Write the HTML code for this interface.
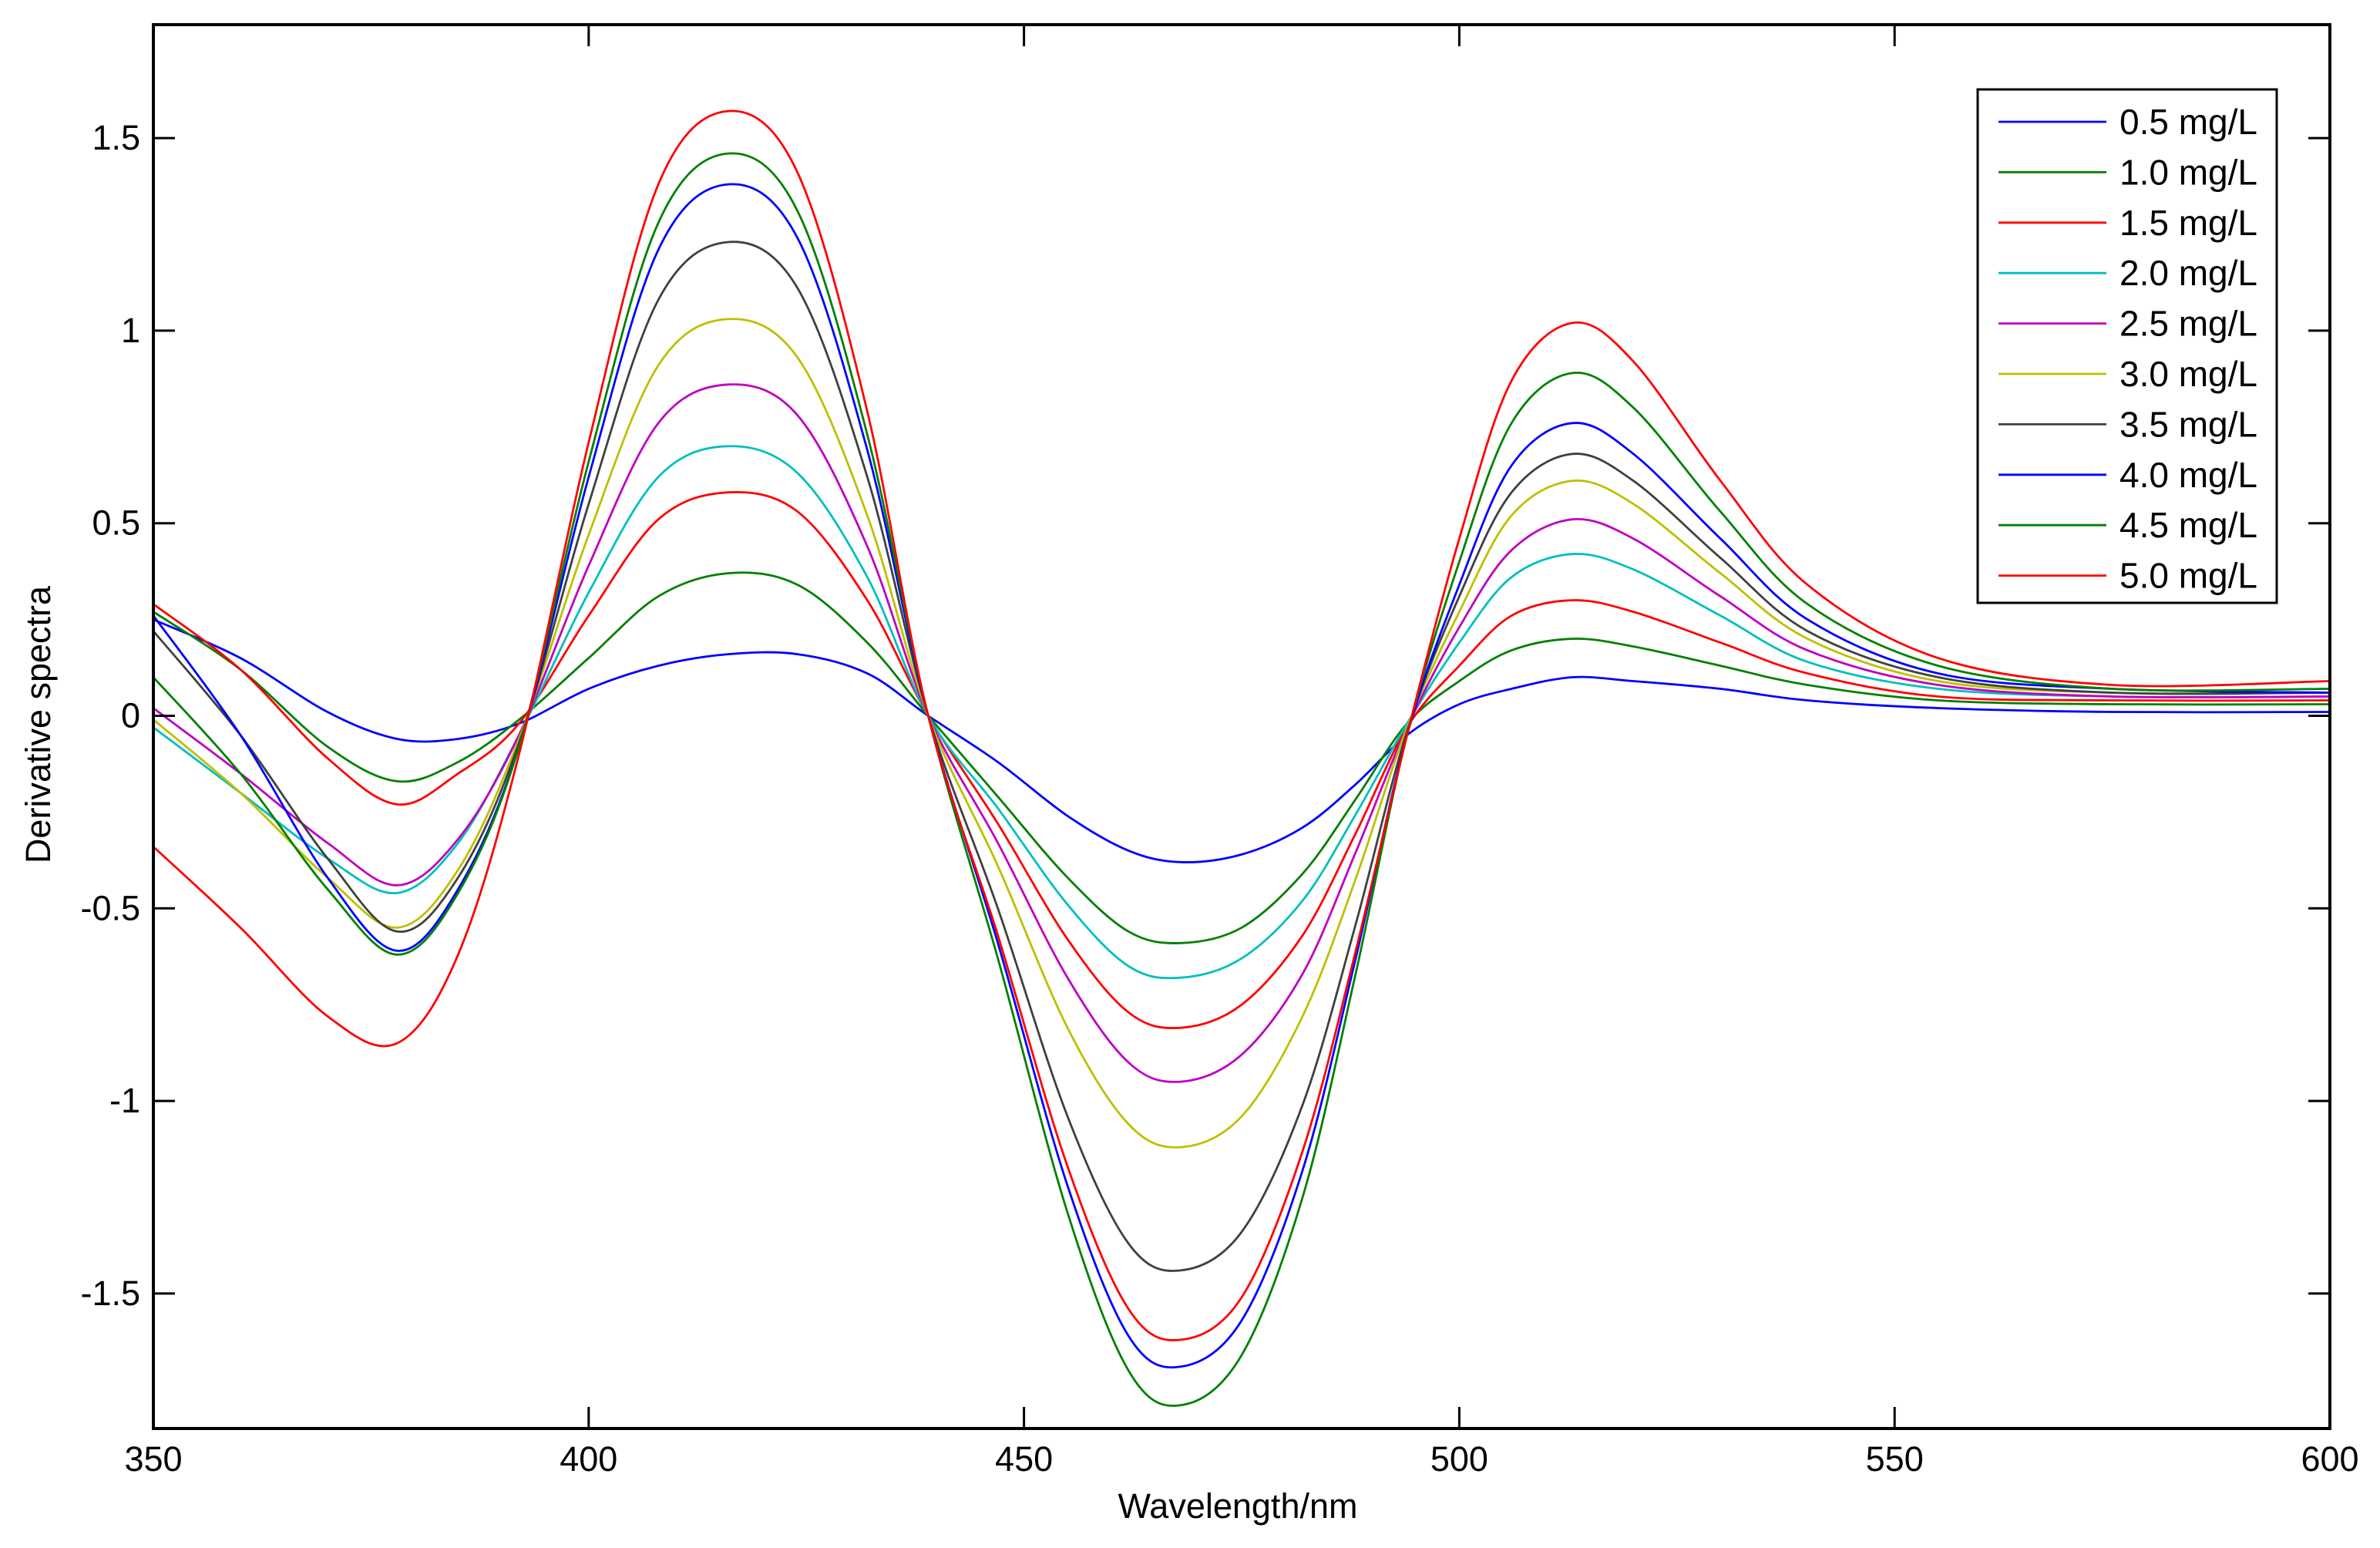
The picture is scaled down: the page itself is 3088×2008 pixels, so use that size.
<!DOCTYPE html>
<html><head><meta charset="utf-8"><style>
html,body{margin:0;padding:0;background:#fff;}
svg{display:block;font-family:"Liberation Sans",Arial,sans-serif;}
</style></head><body>
<svg id="chart" width="3088" height="2008" viewBox="0 0 3088 2008" xmlns="http://www.w3.org/2000/svg">
<rect width="3088" height="2008" fill="#fff"/>
<g id="curves"></g>
<g id="axes"></g>
<g id="legend"></g>
<text x="1606" y="1969" font-size="45" text-anchor="middle">Wavelength/nm</text>
<text x="0" y="0" font-size="45" text-anchor="middle" transform="translate(65,940) rotate(-90)">Derivative spectra</text>
</svg>
<script>
const wavelengths=[350,360,370,378,385,392,400,408,416,424,432,439,447,455,462,468,475,482,488,494,500,506,513,520,530,540,555,575,600];
const seriesNames=["0.5 mg/L","1.0 mg/L","1.5 mg/L","2.0 mg/L","2.5 mg/L","3.0 mg/L","3.5 mg/L","4.0 mg/L","4.5 mg/L","5.0 mg/L"];
const seriesColors=["#0000ff","#008000","#ff0000","#00bfbf","#bf00bf","#bfbf00","#404040","#0000ff","#008000","#ff0000"];
const s05=[.25,.15,.01,-.06,-.06,-.02,.07,.13,.16,.16,.11,0,-.12,-.26,-.35,-.38,-.36,-.29,-.18,-.05,.03,.07,.10,.09,.07,.04,.02,.01,.01];
const s10=[.27,.12,-.08,-.17,-.12,-.01,.15,.31,.37,.34,.19,0,-.21,-.42,-.56,-.59,-.55,-.41,-.22,-.02,.09,.17,.20,.18,.13,.08,.04,.03,.03];
const s15=[.29,.12,-.11,-.23,-.15,-.02,.26,.51,.58,.53,.30,0,-.28,-.58,-.77,-.81,-.75,-.57,-.31,-.03,.13,.26,.30,.27,.19,.11,.05,.04,.04];
const s20=[-.03,-.20,-.37,-.46,-.33,-.05,.32,.62,.70,.63,.36,0,-.24,-.49,-.65,-.68,-.63,-.48,-.26,-.02,.19,.36,.42,.38,.26,.14,.07,.05,.05];
const s25=[.02,-.15,-.33,-.44,-.32,-.05,.39,.76,.86,.78,.44,0,-.33,-.68,-.90,-.95,-.88,-.67,-.36,-.03,.23,.43,.51,.46,.31,.17,.08,.05,.05];
const s30=[-.01,-.20,-.42,-.55,-.40,-.06,.47,.91,1.03,.93,.52,0,-.39,-.81,-1.06,-1.12,-1.04,-.78,-.43,-.03,.27,.52,.61,.55,.37,.20,.09,.06,.06];
const s35=[.22,-.05,-.37,-.56,-.42,-.07,.55,1.08,1.23,1.11,.62,0,-.50,-1.04,-1.37,-1.44,-1.34,-1.01,-.55,-.04,.31,.58,.68,.61,.41,.22,.10,.06,.06];
const s40=[.26,-.05,-.42,-.61,-.45,-.08,.62,1.21,1.38,1.24,.69,0,-.59,-1.22,-1.61,-1.69,-1.57,-1.18,-.64,-.05,.34,.65,.76,.68,.46,.25,.11,.07,.06];
const s45=[.10,-.15,-.45,-.62,-.46,-.08,.66,1.28,1.46,1.31,.73,0,-.63,-1.29,-1.70,-1.79,-1.66,-1.25,-.68,-.05,.40,.76,.89,.80,.53,.29,.13,.07,.07];
const s50=[-.34,-.55,-.78,-.85,-.62,-.10,.71,1.38,1.57,1.41,.79,0,-.57,-1.17,-1.54,-1.62,-1.51,-1.13,-.62,-.05,.46,.87,1.02,.92,.61,.34,.15,.08,.09];
const seriesValues=[s05,s10,s15,s20,s25,s30,s35,s40,s45,s50];
const xTicks=[350,400,450,500,550,600];
const yTicks=[-1.5,-1,-0.5,0,0.5,1,1.5];
const yTickLabels=["-1.5","-1","-0.5","0","0.5","1","1.5"];

const NS="http://www.w3.org/2000/svg";
const L=199,R=3023,T=32,B=1853;
const xScale=v=>L+(v-350)/250*(R-L);
const yScale=v=>928.5-v*499.6;
function mk(tag,attrs,parent){const e=document.createElementNS(NS,tag);for(const k in attrs)e.setAttribute(k,attrs[k]);parent.appendChild(e);return e;}
function smooth(pts){let d="M"+pts[0][0].toFixed(1)+","+pts[0][1].toFixed(1);
 for(let i=0;i<pts.length-1;i++){const p0=pts[i-1]||pts[i],p1=pts[i],p2=pts[i+1],p3=pts[i+2]||p2;
  const c1=[p1[0]+(p2[0]-p0[0])/6,p1[1]+(p2[1]-p0[1])/6],c2=[p2[0]-(p3[0]-p1[0])/6,p2[1]-(p3[1]-p1[1])/6];
  d+="C"+c1[0].toFixed(1)+","+c1[1].toFixed(1)+" "+c2[0].toFixed(1)+","+c2[1].toFixed(1)+" "+p2[0].toFixed(1)+","+p2[1].toFixed(1);}
 return d;}
const cg=document.getElementById("curves");
seriesValues.forEach((vals,i)=>{
 const pts=vals.map((v,j)=>[xScale(wavelengths[j]),yScale(v)]);
 const p=mk("path",{d:smooth(pts),fill:"none",stroke:seriesColors[i],"stroke-width":"2.8"},cg);
 
 
});
const ag=document.getElementById("axes");
const box=mk("rect",{x:L,y:T,width:R-L,height:B-T,fill:"none",stroke:"#000","stroke-width":"4"},ag);


xTicks.forEach(t=>{const x=xScale(t);
 mk("line",{x1:x,y1:B,x2:x,y2:B-28,stroke:"#000","stroke-width":"3"},ag);
 mk("line",{x1:x,y1:T,x2:x,y2:T+28,stroke:"#000","stroke-width":"3"},ag);
 const tx=mk("text",{x:x,y:1908,"font-size":"45","text-anchor":"middle"},ag);tx.textContent=t;
 
 
});
yTicks.forEach((t,i)=>{const y=yScale(t);
 mk("line",{x1:L,y1:y,x2:L+28,y2:y,stroke:"#000","stroke-width":"3"},ag);
 mk("line",{x1:R,y1:y,x2:R-28,y2:y,stroke:"#000","stroke-width":"3"},ag);
 const tx=mk("text",{x:182,y:y+15,"font-size":"45","text-anchor":"end"},ag);tx.textContent=yTickLabels[i];
 
 
});
const lg=document.getElementById("legend");
const lb=mk("rect",{x:2566,y:116,width:388,height:666,fill:"#fff",stroke:"#000","stroke-width":"3"},lg);


seriesNames.forEach((n,i)=>{const y=158+i*65.4;
 const ln=mk("line",{x1:2593,y1:y,x2:2733,y2:y,stroke:seriesColors[i],"stroke-width":"2.8"},lg);
 
 
 const tx=mk("text",{x:2750,y:y+16,"font-size":"46"},lg);tx.textContent=n;
 
 
});
</script>
</body></html>
